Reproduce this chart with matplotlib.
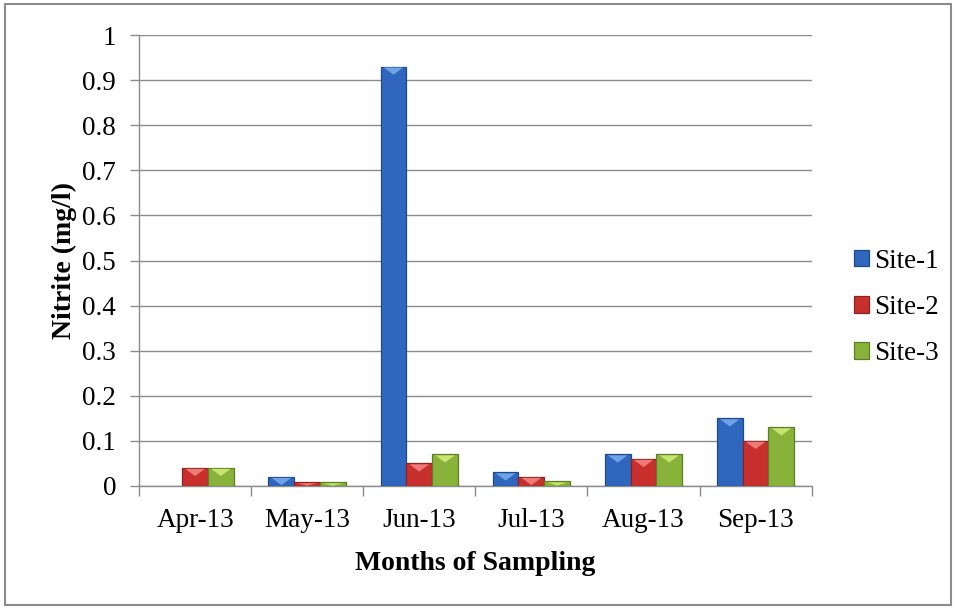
import matplotlib
matplotlib.use("Agg")
import matplotlib.pyplot as plt
import numpy as np
from matplotlib.patches import Rectangle, Polygon, Patch

months = ["Apr-13", "May-13", "Jun-13", "Jul-13", "Aug-13", "Sep-13"]
site1 = [0.0, 0.02, 0.93, 0.03, 0.07, 0.15]
site2 = [0.04, 0.008, 0.05, 0.02, 0.06, 0.10]
site3 = [0.04, 0.008, 0.07, 0.01, 0.07, 0.13]
series_names = ["Site-1", "Site-2", "Site-3"]
colors = ["#2F67BE", "#C8302E", "#88B23A"]
edges = ["#1F4A8A", "#8E2220", "#5E7E26"]
lights = ["#6FA3E6", "#EE7B78", "#C6E46E"]

plt.rcParams['font.family'] = ['Liberation Serif', 'DejaVu Serif']

fig = plt.figure(figsize=(9.56, 6.10), dpi=100)
fig.patches.append(Rectangle((0.005, 0.008), 0.99, 0.985, transform=fig.transFigure,
                             fill=False, edgecolor="#8c8c8c", linewidth=1.5))
ax = fig.add_axes([0.1454, 0.2033, 0.7036, 0.7393])

x = np.arange(len(months))
w = 0.23
handles = []
ax.set_xlim(-0.5, len(months) - 0.5)
ax.set_ylim(0, 1)
for i, (vals, c, e, l, n) in enumerate(zip([site1, site2, site3], colors, edges, lights, series_names)):
    b = ax.bar(x + (i - 1) * w, vals, width=w, color=c, edgecolor=e, linewidth=0.9,
               label=n, zorder=3)
    handles.append(Patch(facecolor=c, edgecolor=e, linewidth=0.9, label=n))
    # bevel highlight: light chevron at the top of each bar
    for p in b.patches:
        hgt = p.get_height()
        if hgt <= 0:
            p.set_visible(False)
            continue
        x0 = p.get_x()
        bw = p.get_width()
        top = p.get_y() + hgt
        d = min(0.018, hgt * 0.9)
        tri = Polygon([(x0 + bw * 0.12, top - 0.002), (x0 + bw * 0.88, top - 0.002),
                       (x0 + bw * 0.5, top - d)], closed=True,
                      facecolor=l, edgecolor="none", zorder=4)
        ax.add_patch(tri)

ax.set_yticks(np.arange(0, 1.01, 0.1))
ax.set_yticklabels(["0", "0.1", "0.2", "0.3", "0.4", "0.5", "0.6", "0.7", "0.8", "0.9", "1"])
ax.yaxis.grid(True, color="#8c8c8c", linewidth=1.0, zorder=0)
ax.set_axisbelow(True)

ax.set_xticks(x)
ax.set_xticklabels(months)
ax.set_xticks(np.arange(-0.5, len(months), 1.0), minor=True)
ax.tick_params(axis='x', which='major', length=0, labelsize=19.5, pad=16)
ax.tick_params(axis='x', which='minor', length=7, color="#8c8c8c", width=1.0)
ax.tick_params(axis='y', length=6.5, color="#8c8c8c", width=1.0, labelsize=19.5, pad=10)

for s in ["top", "right"]:
    ax.spines[s].set_visible(False)
for s in ["left", "bottom"]:
    ax.spines[s].set_color("#8c8c8c")
    ax.spines[s].set_linewidth(1.0)

ax.set_ylabel("Nitrite (mg/l)", fontsize=20, fontweight="bold", labelpad=4)
ax.set_xlabel("Months of Sampling", fontsize=20, fontweight="bold", labelpad=13)

leg = fig.legend(handles=handles, labels=series_names, loc="center left",
                 bbox_to_anchor=(0.868, 0.496), frameon=False, fontsize=19.5,
                 handlelength=0.55, handleheight=0.55, handletextpad=0.18,
                 labelspacing=0.78)

fig.savefig("out.png", dpi=100)
